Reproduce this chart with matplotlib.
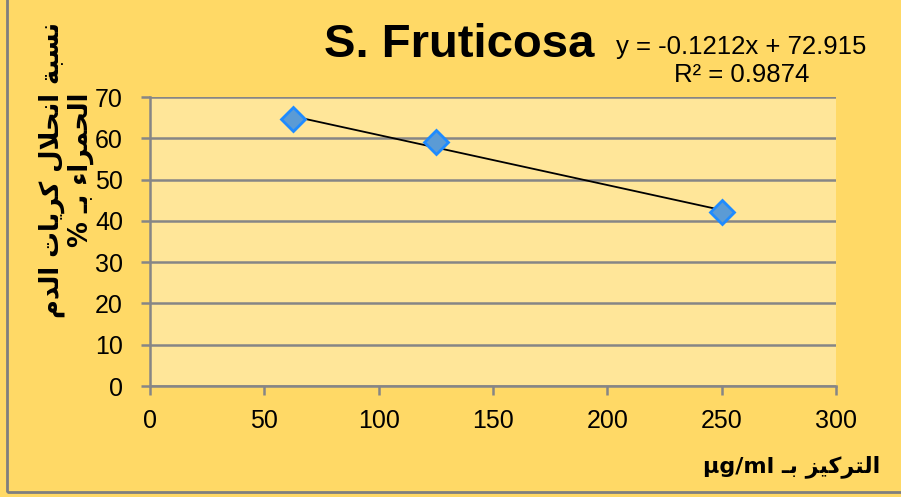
import matplotlib
matplotlib.use("Agg")
import matplotlib.pyplot as plt
from matplotlib.patches import Rectangle

# data
conc = [62.5, 125, 250]
hemolysis = [64.6, 59.2, 42.1]
slope = -0.1212
intercept = 72.915
title = "S. Fruticosa"
eq_text = "y = -0.1212x + 72.915"
r2_text = "R² = 0.9874"
ylabel_lines = ["نسبة انحلال كريات الدم", "الحمراء بـ %"]
xlabel = "التركيز بـ µg/ml"
xticks = [0, 50, 100, 150, 200, 250, 300]
yticks = [0, 10, 20, 30, 40, 50, 60, 70]

# arabic letter forms: isolated, final, initial, medial
FORMS = {
    "ا": (0xFE8D, 0xFE8E, None, None),
    "ب": (0xFE8F, 0xFE90, 0xFE91, 0xFE92),
    "ة": (0xFE93, 0xFE94, None, None),
    "ت": (0xFE95, 0xFE96, 0xFE97, 0xFE98),
    "ح": (0xFEA1, 0xFEA2, 0xFEA3, 0xFEA4),
    "د": (0xFEA9, 0xFEAA, None, None),
    "ر": (0xFEAD, 0xFEAE, None, None),
    "ز": (0xFEAF, 0xFEB0, None, None),
    "س": (0xFEB1, 0xFEB2, 0xFEB3, 0xFEB4),
    "ك": (0xFED9, 0xFEDA, 0xFEDB, 0xFEDC),
    "ل": (0xFEDD, 0xFEDE, 0xFEDF, 0xFEE0),
    "م": (0xFEE1, 0xFEE2, 0xFEE3, 0xFEE4),
    "ن": (0xFEE5, 0xFEE6, 0xFEE7, 0xFEE8),
    "ي": (0xFEF1, 0xFEF2, 0xFEF3, 0xFEF4),
    "ء": (0xFE80, None, None, None),
    "لا": (0xFEFB, 0xFEFC, None, None),
}
TATWEEL = "ـ"


def joins_left(c):
    return c == TATWEEL or (c in FORMS and FORMS[c][2] is not None)


def joins_right(c):
    return c == TATWEEL or (c in FORMS and FORMS[c][1] is not None)


def shape_word(word):
    # merge lam-alef
    chars = []
    i = 0
    while i < len(word):
        if word[i] == "ل" and i + 1 < len(word) and word[i + 1] == "ا":
            chars.append("لا")
            i += 2
        else:
            chars.append(word[i])
            i += 1
    out = []
    for i, c in enumerate(chars):
        if c not in FORMS:
            out.append(c)
            continue
        prev_j = i > 0 and joins_left(chars[i - 1]) and joins_right(c)
        next_j = i + 1 < len(chars) and joins_left(c) and joins_right(chars[i + 1])
        iso, fin, ini, med = FORMS[c]
        if prev_j and next_j:
            code = med
        elif prev_j:
            code = fin
        elif next_j:
            code = ini
        else:
            code = iso
        out.append(chr(code))
    return "".join(reversed(out))


def rtl(text):
    words = []
    for w in text.split(" "):
        if any(ch in FORMS or ch == TATWEEL for ch in w):
            words.append(shape_word(w))
        else:
            words.append(w)
    return " ".join(reversed(words))


plt.rcParams['font.family'] = ['Liberation Sans', 'DejaVu Sans']

fig = plt.figure(figsize=(9.01, 4.97), dpi=100)
fig.patch.set_facecolor("#FFD966")
fig.patches.append(Rectangle((7 / 901, 5 / 497), 1.0, 1.0, transform=fig.transFigure,
                             fill=False, edgecolor="#7F7F7F", linewidth=2, zorder=0))

ax = fig.add_axes([150 / 901, 111 / 497, 686 / 901, 289 / 497])
ax.set_facecolor("#FFE699")

ax.plot(conc, hemolysis, linestyle="none", marker="D", markersize=12,
        markerfacecolor="#5B9BD5", markeredgecolor="#1F8BFF", markeredgewidth=2, zorder=4)
tx = [min(conc), max(conc)]
ty = [slope * v + intercept for v in tx]
ax.plot(tx, ty, color="black", linewidth=1.3, zorder=3)

ax.set_xlim(0, 300)
ax.set_ylim(0, 70)
ax.set_xticks(xticks)
ax.set_yticks(yticks)
ax.grid(axis='y', color="#868686", linewidth=1.8)
ax.set_axisbelow(True)
for s in ["top", "right"]:
    ax.spines[s].set_visible(False)
for s in ["left", "bottom"]:
    ax.spines[s].set_color("#868686")
    ax.spines[s].set_linewidth(1.8)
ax.tick_params(axis='both', colors="#868686", width=1.8, length=6.5, labelsize=18,
               labelcolor="black")
ax.tick_params(axis='y', pad=13)
ax.tick_params(axis='x', pad=10)

fig.text(459 / 901, 1 - 57 / 497, title, ha="center", va="baseline",
         fontsize=34, fontweight="bold")
fig.text(741 / 901, 1 - 54 / 497, eq_text, ha="center", va="baseline", fontsize=18.5)
fig.text(742 / 901, 1 - 82 / 497, r2_text, ha="center", va="baseline", fontsize=18.5)

fig.text(52 / 901, 1 - 170 / 497, rtl(ylabel_lines[0]), ha="center", va="center",
         rotation=90, fontsize=18.5, fontweight="bold", family=['DejaVu Sans'])
fig.text(81 / 901, 1 - 170 / 497, rtl(ylabel_lines[1]), ha="center", va="center",
         rotation=90, fontsize=18.5, fontweight="bold", family=['DejaVu Sans'])
fig.text(880 / 901, 1 - 467 / 497, rtl(xlabel), ha="right", va="center",
         fontsize=16, fontweight="bold", family=['DejaVu Sans'])

fig.savefig("out.png", dpi=100, facecolor=fig.get_facecolor())
